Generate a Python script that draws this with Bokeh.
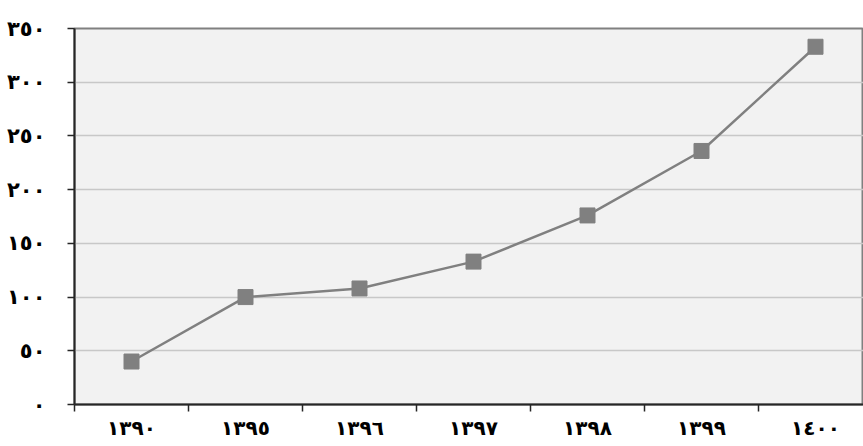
from bokeh.plotting import figure
from bokeh.models import Range1d, FixedTicker
from bokeh.embed import file_html
from bokeh.resources import INLINE

years = ["١٣٩٠", "١٣٩٥", "١٣٩٦", "١٣٩٧", "١٣٩٨", "١٣٩٩", "١٤٠٠"]
values = [40, 100, 108, 133, 176, 236, 333]
y_ticks = [0, 50, 100, 150, 200, 250, 300, 350]
y_labels = ["٠", "٥٠", "١٠٠", "١٥٠", "٢٠٠", "٢٥٠", "٣٠٠", "٣٥٠"]

W, H = 863, 446
frame_left = 74
frame_w = W - frame_left
cat_px = 114.0

xs = [i + 0.5 for i in range(len(years))]

p = figure(width=W, height=H, output_backend="svg", toolbar_location=None,
           x_range=Range1d(0, frame_w / cat_px), y_range=Range1d(0, 350),
           min_border_left=frame_left, min_border_right=0,
           min_border_top=28, min_border_bottom=42)

p.border_fill_color = "white"
p.background_fill_color = "#f2f2f2"
p.outline_line_color = "#808080"
p.outline_line_width = 2

p.line(xs, values, line_color="#808080", line_width=2.5)
p.scatter(xs, values, marker="square", size=15, fill_color="#808080", line_color="#808080")

# x axis
p.xaxis.ticker = FixedTicker(ticks=xs, minor_ticks=list(range(len(years) + 1)))
p.xaxis.major_label_overrides = {x: y for x, y in zip(xs, years)}
p.xaxis.major_tick_line_color = None
p.xaxis.major_tick_out = 7
p.xaxis.minor_tick_out = 7
p.xaxis.minor_tick_in = 0
p.xaxis.minor_tick_line_color = "#262626"
p.xaxis.minor_tick_line_width = 1.5
p.xaxis.axis_line_color = "#262626"
p.xaxis.axis_line_width = 2
p.xaxis.major_label_standoff = 4
p.xaxis.major_label_text_font = "DejaVu Sans"
p.xaxis.major_label_text_font_style = "bold"
p.xaxis.major_label_text_font_size = "20px"
p.xaxis.major_label_text_color = "black"

# y axis
p.yaxis.ticker = FixedTicker(ticks=y_ticks)
p.yaxis.major_label_overrides = {t: l for t, l in zip(y_ticks, y_labels)}
p.yaxis.major_tick_out = 7
p.yaxis.major_tick_in = 0
p.yaxis.minor_tick_line_color = None
p.yaxis.major_tick_line_color = "#262626"
p.yaxis.major_tick_line_width = 1.5
p.yaxis.axis_line_color = "#262626"
p.yaxis.axis_line_width = 2
p.yaxis.major_label_standoff = 22
p.yaxis.major_label_text_font = "DejaVu Sans"
p.yaxis.major_label_text_font_style = "bold"
p.yaxis.major_label_text_font_size = "21px"
p.yaxis.major_label_text_color = "black"

p.xgrid.grid_line_color = None
p.ygrid.grid_line_color = "#c8c8c8"
p.ygrid.grid_line_width = 1.5

open("out.html", "w").write(file_html(p, INLINE))
